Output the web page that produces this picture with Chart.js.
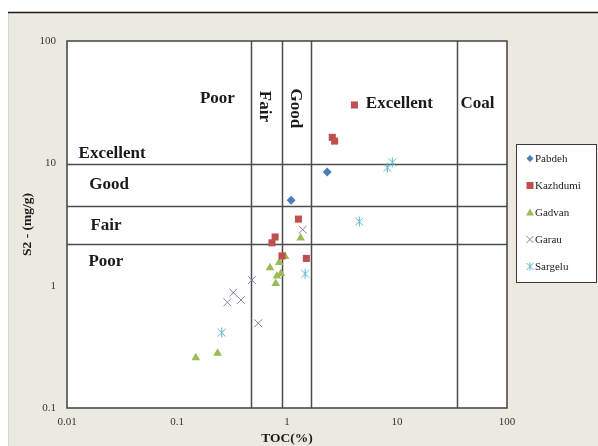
<!DOCTYPE html>
<html>
<head>
<meta charset="utf-8">
<script src="https://cdn.jsdelivr.net/npm/chart.js@4.4.1/dist/chart.umd.min.js"></script>
<style>
  html, body { margin: 0; padding: 0; background: #fff; }
  #wrap { width: 598px; height: 446px; }
</style>
</head>
<body>
<div id="wrap"><canvas id="c" width="598" height="446"></canvas></div>
<script>
// TOC (%) and S2 (mg/g) for each formation
const pabdehTOC   = [1.09, 2.32];
const pabdehS2    = [5.0, 8.5];
const kazhdumiTOC = [4.1, 2.58, 2.71, 1.27, 0.78, 0.73, 0.9, 1.5];
const kazhdumiS2  = [30, 16.3, 15.2, 3.5, 2.5, 2.24, 1.75, 1.67];
const gadvanTOC   = [1.33, 0.96, 0.85, 0.70, 0.81, 0.88, 0.79, 0.148, 0.234];
const gadvanS2    = [2.45, 1.73, 1.55, 1.40, 1.20, 1.26, 1.04, 0.258, 0.28];
const garauTOC    = [1.39, 0.48, 0.325, 0.287, 0.382, 0.548];
const garauS2     = [2.87, 1.11, 0.877, 0.731, 0.764, 0.493];
const sargeluTOC  = [9.06, 8.16, 4.54, 1.46, 0.255];
const sargeluS2   = [10.2, 9.2, 3.34, 1.25, 0.413];

const seriesNames = ['Pabdeh', 'Kazhdumi', 'Gadvan', 'Garau', 'Sargelu'];

// Source-rock class boundaries
const tocLimits = [0.47, 0.9, 1.65, 35];
const s2Limits  = [9.8, 4.5, 2.2];

// Axis ticks
const xTicks = [0.01, 0.1, 1, 10, 100];
const xTickLabels = ['0.01', '0.1', '1', '10', '100'];
const yTicks = [0.1, 1, 10, 100];
const yTickLabels = ['0.1', '1', '10', '100'];

// Class names: [text, TOC, S2, vertical]
const classLabels = [
  ['Poor', 0.233, 34.0, false],
  ['Fair', 0.624, 29.2, true],
  ['Good', 1.195, 28.1, true],
  ['Excellent', 10.5, 30.6, false],
  ['Coal', 53.9, 30.6, false],
  ['Excellent', 0.0257, 11.9, false],
  ['Good', 0.0241, 6.66, false],
  ['Fair', 0.0226, 3.08, false],
  ['Poor', 0.0226, 1.56, false]
];

const pts = (xs, ys) => xs.map((x, i) => ({ x, y: ys[i] }));

// Asterisk-like marker
function starMarker(color) {
  const cv = document.createElement('canvas');
  cv.width = 11; cv.height = 11;
  const g = cv.getContext('2d');
  g.strokeStyle = color; g.lineWidth = 1;
  g.beginPath();
  g.moveTo(1.5, 1.5); g.lineTo(9.5, 9.5);
  g.moveTo(9.5, 1.5); g.lineTo(1.5, 9.5);
  g.moveTo(5.5, 0.5); g.lineTo(5.5, 10.5);
  g.stroke();
  return cv;
}

const colors = ['#4a7ebb', '#c0504d', '#9bbb59', '#8a7ba6', '#5cb4cc'];
const sargeluMarker = starMarker(colors[4]);

const SERIF = '"Liberation Serif", "Times New Roman", serif';

const decor = {
  id: 'decor',
  beforeDraw(chart) {
    const { ctx, chartArea: a, width, height } = chart;
    ctx.save();
    ctx.fillStyle = '#ffffff';
    ctx.fillRect(0, 0, width, height);
    ctx.fillStyle = '#ECEAE0';
    ctx.fillRect(8, 12, width - 8, height - 12);
    ctx.strokeStyle = '#d6d4ca';
    ctx.lineWidth = 1;
    ctx.beginPath(); ctx.moveTo(8.5, 12); ctx.lineTo(8.5, height); ctx.stroke();
    ctx.strokeStyle = '#1a1a1a';
    ctx.lineWidth = 1.5;
    ctx.beginPath(); ctx.moveTo(8, 12.5); ctx.lineTo(width, 12.5); ctx.stroke();
    ctx.fillStyle = '#ffffff';
    ctx.fillRect(a.left, a.top, a.right - a.left, a.bottom - a.top);
    ctx.restore();
  },
  beforeDatasetsDraw(chart) {
    const { ctx, chartArea: a, scales: { x, y } } = chart;
    ctx.save();
    ctx.strokeStyle = '#4d4d4d';
    ctx.lineWidth = 1.5;
    ctx.beginPath();
    tocLimits.forEach(v => {
      const px = Math.round(x.getPixelForValue(v)) + 0.5;
      ctx.moveTo(px, a.top); ctx.lineTo(px, a.bottom);
    });
    s2Limits.forEach(v => {
      const py = Math.round(y.getPixelForValue(v)) + 0.5;
      ctx.moveTo(a.left, py); ctx.lineTo(a.right, py);
    });
    ctx.stroke();
    ctx.strokeStyle = '#404040';
    ctx.lineWidth = 1.5;
    ctx.strokeRect(a.left, a.top, a.right - a.left, a.bottom - a.top);

    ctx.fillStyle = '#1a1a1a';
    ctx.font = 'bold 17px ' + SERIF;
    ctx.textAlign = 'center';
    ctx.textBaseline = 'middle';
    classLabels.forEach(([t, tx, ty, vert]) => {
      const px = x.getPixelForValue(tx), py = y.getPixelForValue(ty);
      ctx.save();
      ctx.translate(px, py);
      if (vert) ctx.rotate(Math.PI / 2);
      ctx.fillText(t, 0, 0);
      ctx.restore();
    });
    ctx.restore();
  },
  afterDraw(chart) {
    const { ctx, chartArea: a } = chart;
    ctx.save();
    // axis titles
    ctx.fillStyle = '#1a1a1a';
    ctx.font = 'bold 13.5px ' + SERIF;
    ctx.textAlign = 'center';
    ctx.textBaseline = 'middle';
    ctx.fillText('TOC(%)', (a.left + a.right) / 2, 439);
    ctx.save();
    ctx.translate(28, (a.top + a.bottom) / 2);
    ctx.rotate(-Math.PI / 2);
    ctx.fillText('S2 - (mg/g)', 0, 0);
    ctx.restore();

    // legend
    const lx = 516, ly = 144, lw = 80, lh = 138;
    ctx.fillStyle = '#ffffff';
    ctx.fillRect(lx, ly, lw, lh);
    ctx.strokeStyle = '#3a3a3a';
    ctx.lineWidth = 1;
    ctx.strokeRect(lx + 0.5, ly + 0.5, lw, lh);
    ctx.font = '11px ' + SERIF;
    ctx.textAlign = 'left';
    seriesNames.forEach((name, i) => {
      const cy = ly + 14.5 + i * 27;
      const cx = lx + 14;
      const c = colors[i];
      ctx.fillStyle = c; ctx.strokeStyle = c; ctx.lineWidth = 1;
      ctx.beginPath();
      if (i === 0) {
        ctx.moveTo(cx, cy - 3.5); ctx.lineTo(cx + 3.5, cy); ctx.lineTo(cx, cy + 3.5); ctx.lineTo(cx - 3.5, cy); ctx.closePath(); ctx.fill();
      } else if (i === 1) {
        ctx.fillRect(cx - 3.5, cy - 3.5, 7, 7);
      } else if (i === 2) {
        ctx.moveTo(cx, cy - 4); ctx.lineTo(cx + 4, cy + 3); ctx.lineTo(cx - 4, cy + 3); ctx.closePath(); ctx.fill();
      } else {
        ctx.moveTo(cx - 3.5, cy - 3.5); ctx.lineTo(cx + 3.5, cy + 3.5);
        ctx.moveTo(cx + 3.5, cy - 3.5); ctx.lineTo(cx - 3.5, cy + 3.5);
        if (i === 4) { ctx.moveTo(cx, cy - 4); ctx.lineTo(cx, cy + 4); }
        ctx.stroke();
      }
      ctx.fillStyle = '#222';
      ctx.fillText(name, cx + 5, cy + 0.5);
    });
    ctx.restore();
  }
};

const tickFont = { family: SERIF, size: 11 };

new Chart(document.getElementById('c'), {
  type: 'scatter',
  data: {
    datasets: [
      { label: seriesNames[0], data: pts(pabdehTOC, pabdehS2), pointStyle: 'rectRot', radius: 4.5,
        backgroundColor: colors[0], borderColor: colors[0], borderWidth: 0 },
      { label: seriesNames[1], data: pts(kazhdumiTOC, kazhdumiS2), pointStyle: 'rect', radius: 5,
        backgroundColor: colors[1], borderColor: colors[1], borderWidth: 0 },
      { label: seriesNames[2], data: pts(gadvanTOC, gadvanS2), pointStyle: 'triangle', radius: 5,
        backgroundColor: colors[2], borderColor: colors[2], borderWidth: 0 },
      { label: seriesNames[3], data: pts(garauTOC, garauS2), pointStyle: 'crossRot', radius: 5.5,
        backgroundColor: colors[3], borderColor: colors[3], borderWidth: 1 },
      { label: seriesNames[4], data: pts(sargeluTOC, sargeluS2), pointStyle: sargeluMarker, radius: 5.5,
        backgroundColor: colors[4], borderColor: colors[4], borderWidth: 1 }
    ]
  },
  options: {
    responsive: false,
    animation: false,
    devicePixelRatio: 1,
    layout: { padding: { left: 8, top: 41, right: 91, bottom: 0 } },
    plugins: { legend: { display: false }, tooltip: { enabled: false } },
    scales: {
      x: {
        type: 'logarithmic', min: 0.01, max: 100,
        grid: { display: false, drawTicks: false, tickLength: 0 },
        border: { display: false },
        afterBuildTicks: s => { s.ticks = xTicks.map(v => ({ value: v })); },
        afterFit: s => { s.height = 38; },
        ticks: { font: tickFont, color: '#333', padding: 8, maxRotation: 0, autoSkip: false,
                 callback: (v, i) => xTickLabels[i] }
      },
      y: {
        type: 'logarithmic', min: 0.1, max: 100,
        grid: { display: false, drawTicks: false, tickLength: 0 },
        border: { display: false },
        afterBuildTicks: s => { s.ticks = yTicks.map(v => ({ value: v })); },
        afterFit: s => { s.width = 59; },
        ticks: { font: tickFont, color: '#333', padding: 11, autoSkip: false,
                 callback: (v, i) => yTickLabels[i] }
      }
    }
  },
  plugins: [decor]
});
</script>
</body>
</html>
